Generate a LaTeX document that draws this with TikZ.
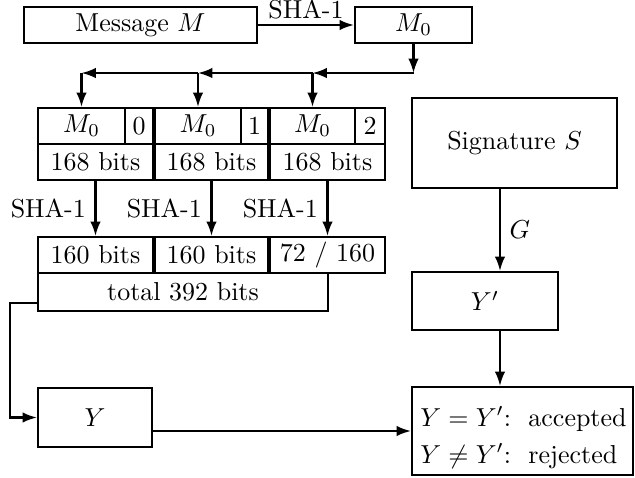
\documentclass[tikz,border=0pt]{standalone}
\usetikzlibrary{arrows.meta,fit}
\begin{document}
\begin{tikzpicture}[x=0.385pt,y=-0.385pt,line width=0.8pt,
  box/.style={draw,inner sep=0pt,line width=0.8pt},
  txt/.style={label={[inner sep=0pt]center:#1}},
  conn/.style={-{Latex[length=5.5pt,width=4pt]},line width=0.8pt}]
\useasboundingbox (0,0) rectangle (635,477);

% message and its hash
\node[box,fit={(24,7) (257,43)},txt={Message $M$}] (msg) {};
\node[box,fit={(355,7) (472,43)},txt={$M_0$}] (m0) {};
\draw[conn] (msg.east) -- node[above,inner sep=2pt] {SHA-1} (m0.west);

% M_0 with counter bytes
\node[box,fit={(38,108) (125,144)},txt={$M_0$}] (a0) {};
\node[box,fit={(125,108) (153,144)},txt={0}] (a1) {};
\node[box,fit={(155,108) (241,144)},txt={$M_0$}] (b0) {};
\node[box,fit={(241,108) (268,144)},txt={1}] (b1) {};
\node[box,fit={(270,108) (355,144)},txt={$M_0$}] (c0) {};
\node[box,fit={(355,108) (385,144)},txt={2}] (c1) {};

\node[box,fit={(38,144) (153,180)},txt={168 bits}] (ra) {};
\node[box,fit={(155,144) (268,180)},txt={168 bits}] (rb) {};
\node[box,fit={(270,144) (385,180)},txt={168 bits}] (rc) {};

% distribution of M_0
\coordinate (j1) at (m0.south |- 0,73);
\coordinate (j2) at (c0.north |- j1);
\coordinate (j3) at (b0.north |- j1);
\coordinate (j4) at (a0.north |- j1);
\draw[conn] (m0.south) -- (j1);
\draw[conn] (j1) -- (j2);
\draw[conn] (j2) -- (j3);
\draw[conn] (j3) -- (j4);
\draw[conn] (j2) -- (c0.north);
\draw[conn] (j3) -- (b0.north);
\draw[conn] (j4) -- (a0.north);

% hashed blocks
\node[box,fit={(38,237) (153,273)},txt={160 bits}] (ha) {};
\node[box,fit={(155,237) (268,273)},txt={160 bits}] (hb) {};
\node[box,fit={(270,237) (385,273)},txt={72 / 160}] (hc) {};
\node[box,fit={(38,273) (328,311)},txt={total 392 bits}] (tot) {};

\draw[conn] (ra.south) -- node[left] {SHA-1} (ha.north);
\draw[conn] (rb.south) -- node[left] {SHA-1} (hb.north);
\draw[conn] (rc.south) -- node[left] {SHA-1} (hc.north);

% result Y
\node[box,fit={(38,388) (152,447)},txt={$Y$}] (Y) {};
\coordinate (t1) at ([yshift=3.5pt]tot.south west);
\coordinate (t2) at (10,0 |- t1);
\draw[conn] (t1) -- (t2) |- (Y.west);

% signature side
\node[box,fit={(412,98) (617,188)},txt={Signature $S$}] (sig) {};
\node[box,fit={(412,272) (558,330)},txt={$Y'$}] (yp) {};
\node[box,fit={(412,387) (633,475)}] (res) {};
\node[anchor=west,align=left,inner sep=3.2pt,yshift=-2.6pt] (restxt) at (res.west)
  {$Y = Y'$:\ \ accepted\\[2.2pt] $Y \neq Y'$:\ \ rejected};

\coordinate (ax) at (500,0);
\draw[conn] (sig.south -| ax) -- node[right] {$G$} (yp.north -| ax);
\draw[conn] (yp.south -| ax) -- (res.north -| ax);
\draw[conn] (Y.east |- res.west) -- (res.west);
\end{tikzpicture}
\end{document}
